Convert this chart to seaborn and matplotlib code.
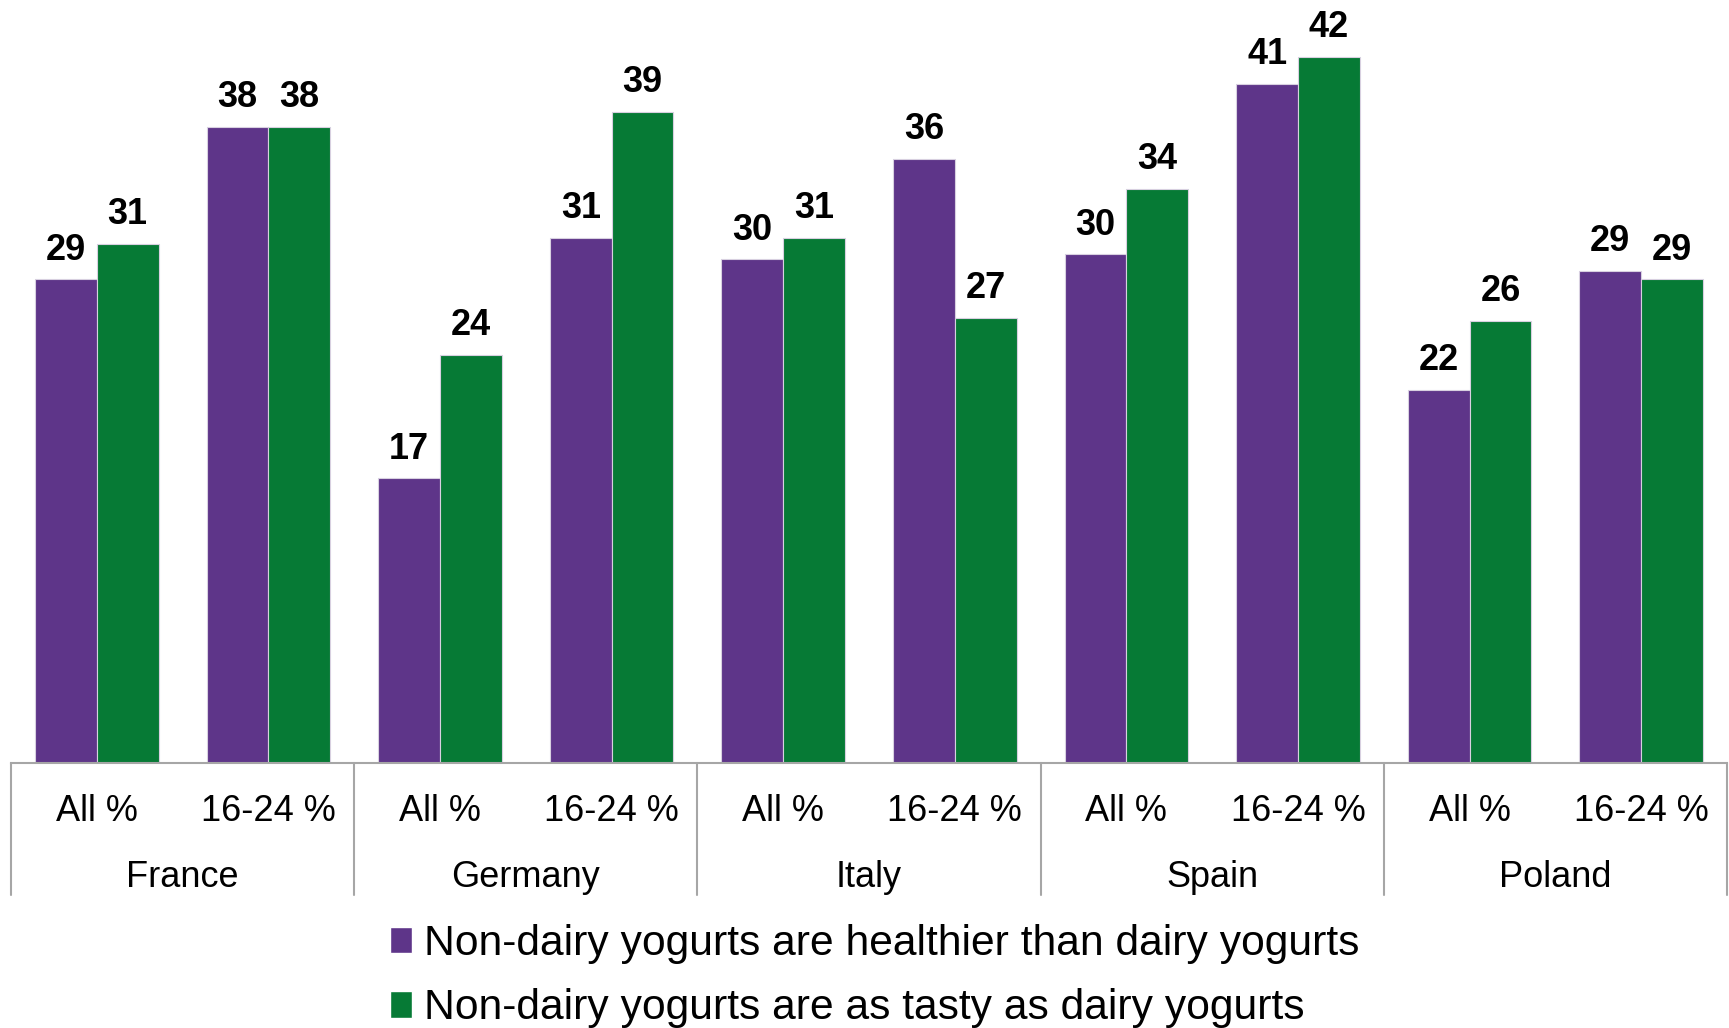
import matplotlib
matplotlib.use("Agg")
import matplotlib.pyplot as plt
import seaborn as sns
import pandas as pd
from matplotlib.patches import Patch

countries = ["France", "Germany", "Italy", "Spain", "Poland"]
groups = ["All %", "16-24 %"]
series = ["Non-dairy yogurts are healthier than dairy yogurts",
          "Non-dairy yogurts are as tasty as dairy yogurts"]
healthier = [28.9, 38.0, 17.0, 31.4, 30.1, 36.1, 30.4, 40.6, 22.3, 29.4]
tasty = [31.0, 38.0, 24.4, 38.9, 31.4, 26.6, 34.3, 42.2, 26.4, 28.9]
colors = ["#5E3589", "#067A35"]

cats = [f"{c}|{g}" for c in countries for g in groups]
df = pd.DataFrame({
    "cat": cats * 2,
    "value": healthier + tasty,
    "series": [series[0]] * len(cats) + [series[1]] * len(cats),
})

sns.set_theme(style="white")
plt.rcParams["font.family"] = ["Liberation Sans", "DejaVu Sans"]
plt.rcParams["text.color"] = "black"

W, H = 1729, 1028
fig = plt.figure(figsize=(W / 100, H / 100), dpi=100)
axis_px = 762.5
ax = fig.add_axes([11 / W, (H - axis_px) / H, (1727 - 11) / W, axis_px / H])

sns.barplot(data=df, x="cat", y="value", hue="series", order=cats,
            hue_order=series, palette=colors, width=0.72, ax=ax,
            edgecolor="#D8D0E0", linewidth=0.8, legend=False, saturation=1)

for cont in ax.containers:
    ax.bar_label(cont, fmt="%.0f", padding=8.5, fontsize=26, fontweight="bold",
                 color="black")

ax.set_xlim(-0.5, len(cats) - 0.5)
ax.set_ylim(0, axis_px / 16.716)
ax.set_xlabel("")
ax.set_ylabel("")
ax.set_yticks([])
ax.set_xticks([])
for s in ["top", "right", "left"]:
    ax.spines[s].set_visible(False)
ax.spines["bottom"].set_color("#A6A6A6")
ax.spines["bottom"].set_linewidth(1.5)

trans = ax.get_xaxis_transform()
sub_y = -(811.5 - axis_px) / axis_px
cty_y = -(877.5 - axis_px) / axis_px
sep_y = -(895 - axis_px) / axis_px
for i, c in enumerate(cats):
    ax.text(i, sub_y, c.split("|")[1], transform=trans, ha="center",
            va="center", fontsize=26, color="black")
for j, c in enumerate(countries):
    ax.text(2 * j + 0.5, cty_y, c, transform=trans, ha="center",
            va="center", fontsize=26, color="black")
for k in range(len(countries) + 1):
    x = 2 * k - 0.5
    ax.plot([x, x], [0, sep_y], transform=trans, color="#A6A6A6",
            lw=1.5, clip_on=False)

handles = [Patch(facecolor=colors[0]), Patch(facecolor=colors[1])]
leg = fig.legend(handles, series, loc="upper left",
                 bbox_to_anchor=(390 / W, 1 - 924 / H), frameon=False,
                 fontsize=30.7, handlelength=0.52, handleheight=0.58,
                 handletextpad=0.28, labelspacing=0.57, borderpad=0,
                 borderaxespad=0)
for t in leg.get_texts():
    t.set_color("black")

fig.savefig("out.png", dpi=100)
